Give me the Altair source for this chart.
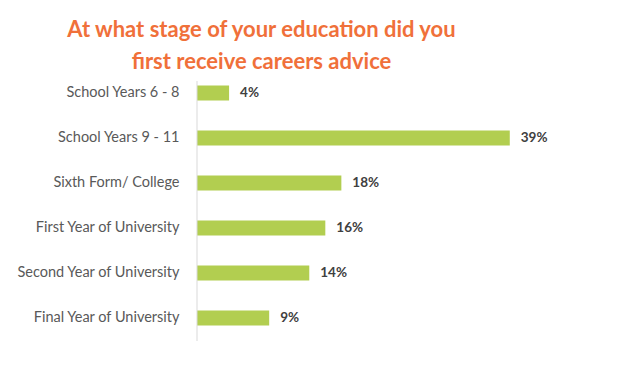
import altair as alt
import pandas as pd

categories = [
    "School Years 6 - 8",
    "School Years 9 - 11",
    "Sixth Form/ College",
    "First Year of University",
    "Second Year of University",
    "Final Year of University",
]
values = [4, 39, 18, 16, 14, 9]
labels = ["4%", "39%", "18%", "16%", "14%", "9%"]

df = pd.DataFrame({"stage": categories, "pct": values, "label": labels})
axis_df = pd.DataFrame({"pct": [0]})

y_enc = alt.Y(
    "stage:N",
    sort=categories,
    title=None,
    scale=alt.Scale(paddingInner=0.667, paddingOuter=0.333),
    axis=alt.Axis(
        ticks=False,
        domain=False,
        labelFont="Lato",
        labelFontSize=14.5,
        labelColor="#595959",
        labelPadding=18,
        labelLimit=300,
    ),
)
x_enc = alt.X("pct:Q", scale=alt.Scale(domain=[0, 50]), axis=None)

bars = alt.Chart(df).mark_bar(color="#B2CE50").encode(y=y_enc, x=x_enc)
text = alt.Chart(df).mark_text(
    align="left", baseline="middle", dx=11, font="Lato", fontSize=13.5,
    fontWeight="bold", color="#404040"
).encode(y=alt.Y("stage:N", sort=categories), x="pct:Q", text="label:N")
axis_line = alt.Chart(axis_df).mark_rule(color="#D9D9D9", strokeWidth=1).encode(
    x="pct:Q", y=alt.value(10.5), y2=alt.value(270.5)
)

chart = (
    alt.layer(bars, text, axis_line)
    .properties(
        width=401,
        height=270,
        autosize=alt.AutoSizeParams(type="none"),
        padding={"left": 189, "top": 62.5, "right": 10, "bottom": 10},
        title=alt.TitleParams(
            text=["At what stage of your education did you", "first receive careers advice"],
            font="Lato",
            fontSize=22,
            fontWeight="bold",
            color="#F0703A",
            anchor="middle",
            frame="group",
            dx=-136,
            lineHeight=32,
            offset=-3,
        ),
    )
    .configure_view(stroke=None)
)

chart.save("out.html", embed_options={"renderer": "svg", "actions": False})
